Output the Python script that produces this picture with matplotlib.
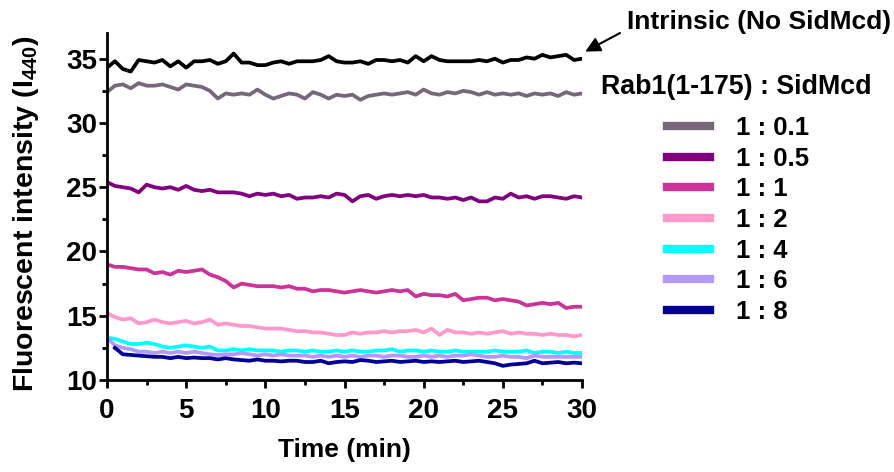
import numpy as np
import matplotlib
matplotlib.use("Agg")
import matplotlib.pyplot as plt
from matplotlib.ticker import MultipleLocator

plt.rcParams['font.family'] = ['Liberation Sans', 'DejaVu Sans']
plt.rcParams['font.weight'] = 'bold'
plt.rcParams['mathtext.fontset'] = 'custom'
plt.rcParams['mathtext.rm'] = 'Liberation Sans:bold'
plt.rcParams['mathtext.it'] = 'Liberation Sans:bold'
plt.rcParams['mathtext.bf'] = 'Liberation Sans:bold'

time = np.arange(0, 30.01, 0.5)

intrinsic = [34.3, 34.8, 34.2, 34.0, 34.9, 34.8, 34.7, 34.9, 34.4, 34.8, 34.3, 34.8, 34.8, 34.9, 34.6, 34.8,
             35.4, 34.7, 34.7, 34.5, 34.5, 34.7, 34.8, 34.6, 34.8, 34.8, 34.8, 34.9, 35.2, 34.8, 34.7, 34.7,
             34.8, 34.6, 34.9, 34.9, 34.8, 34.9, 34.7, 35.2, 34.8, 35.2, 34.9, 34.8, 34.8, 34.8, 34.8, 34.9,
             34.8, 35.0, 34.7, 34.9, 34.9, 35.1, 35.0, 35.3, 35.1, 35.2, 35.3, 34.9, 35.0]
r_0_1 = [32.4, 32.9, 33.0, 32.7, 33.1, 32.9, 32.9, 33.0, 32.8, 32.6, 33.0, 32.9, 32.8, 32.5, 31.9, 32.3,
         32.2, 32.3, 32.2, 32.6, 32.2, 31.9, 32.1, 32.3, 32.2, 31.9, 32.4, 32.2, 31.9, 32.2, 32.1, 32.2,
         31.8, 32.1, 32.2, 32.3, 32.2, 32.3, 32.4, 32.2, 32.6, 32.3, 32.2, 32.4, 32.3, 32.5, 32.4, 32.2,
         32.4, 32.2, 32.3, 32.2, 32.3, 32.1, 32.3, 32.2, 32.3, 32.1, 32.4, 32.2, 32.3]
r_0_5 = [25.4, 25.1, 25.0, 24.9, 24.6, 25.2, 25.0, 24.9, 25.0, 24.8, 25.1, 24.8, 24.7, 24.8, 24.6, 24.6,
         24.6, 24.5, 24.3, 24.5, 24.4, 24.5, 24.3, 24.4, 24.1, 24.2, 24.2, 24.3, 24.2, 24.5, 24.4, 23.9,
         24.3, 24.4, 24.1, 24.3, 24.4, 24.3, 24.4, 24.3, 24.4, 24.2, 24.2, 24.1, 24.2, 24.0, 24.2, 23.9,
         23.9, 24.2, 24.1, 24.5, 24.2, 24.3, 24.1, 24.3, 24.3, 24.2, 24.1, 24.3, 24.2]
r_1 = [19.0, 18.8, 18.8, 18.7, 18.6, 18.6, 18.3, 18.4, 18.2, 18.5, 18.4, 18.5, 18.6, 18.2, 18.0, 17.7,
       17.2, 17.5, 17.4, 17.3, 17.3, 17.3, 17.2, 17.3, 17.1, 17.1, 16.9, 17.0, 17.0, 16.9, 16.8, 16.9,
       17.0, 16.9, 16.8, 16.9, 17.0, 16.9, 17.0, 16.5, 16.7, 16.6, 16.6, 16.5, 16.7, 16.2, 16.3, 16.4,
       16.4, 16.2, 16.3, 16.2, 16.1, 15.8, 15.9, 16.0, 15.9, 16.0, 15.6, 15.7, 15.7]
r_2 = [15.2, 14.9, 14.7, 14.8, 14.4, 14.5, 14.7, 14.5, 14.4, 14.5, 14.6, 14.4, 14.5, 14.7, 14.3, 14.4,
       14.3, 14.2, 14.2, 14.1, 14.0, 14.0, 14.0, 13.9, 13.8, 13.8, 13.7, 13.7, 13.6, 13.5, 13.5, 13.7,
       13.6, 13.7, 13.7, 13.8, 13.7, 13.8, 13.8, 13.9, 13.7, 14.0, 13.5, 13.9, 13.7, 13.7, 13.6, 13.7,
       13.6, 13.7, 13.8, 13.6, 13.7, 13.6, 13.6, 13.5, 13.6, 13.5, 13.5, 13.4, 13.5]
r_4 = [13.3, 13.2, 13.0, 12.8, 12.8, 12.9, 12.8, 12.6, 12.5, 12.6, 12.7, 12.6, 12.5, 12.6, 12.3, 12.3,
       12.4, 12.3, 12.4, 12.3, 12.3, 12.3, 12.2, 12.3, 12.3, 12.2, 12.3, 12.2, 12.2, 12.3, 12.2, 12.3,
       12.2, 12.2, 12.3, 12.3, 12.4, 12.2, 12.3, 12.3, 12.2, 12.3, 12.2, 12.2, 12.3, 12.2, 12.2, 12.2,
       12.2, 12.3, 12.2, 12.2, 12.2, 12.3, 12.1, 12.2, 12.2, 12.1, 12.2, 12.1, 12.1]
r_6 = [13.3, 12.7, 12.5, 12.4, 12.2, 12.2, 12.1, 12.2, 12.1, 12.2, 12.1, 12.2, 12.1, 12.0, 11.95, 12.0,
       12.0, 12.1, 12.0, 11.9, 12.0, 11.9, 12.0, 11.9, 11.9, 11.9, 11.8, 11.9, 11.8, 11.9, 11.8, 11.9,
       11.8, 11.9, 11.9, 11.8, 11.9, 11.9, 11.8, 11.8, 11.9, 11.8, 11.9, 11.8, 11.9, 11.9, 12.0, 11.9,
       11.8, 11.8, 11.9, 11.8, 11.8, 11.7, 11.9, 11.8, 11.8, 11.8, 11.8, 11.8, 11.8]
r_8 = [np.nan, 12.5, 12.0, 11.95, 11.9, 11.85, 11.8, 11.8, 11.7, 11.8, 11.7, 11.75, 11.7, 11.7, 11.6, 11.7,
       11.6, 11.55, 11.5, 11.6, 11.5, 11.5, 11.45, 11.5, 11.5, 11.4, 11.4, 11.5, 11.3, 11.4, 11.45, 11.4,
       11.55, 11.5, 11.4, 11.45, 11.5, 11.4, 11.45, 11.5, 11.4, 11.45, 11.4, 11.45, 11.5, 11.4, 11.45, 11.5,
       11.4, 11.3, 11.1, 11.2, 11.25, 11.3, 11.5, 11.3, 11.35, 11.4, 11.3, 11.35, 11.3]

labels = ['1 : 0.1', '1 : 0.5', '1 : 1', '1 : 2', '1 : 4', '1 : 6', '1 : 8']
series = [r_0_1, r_0_5, r_1, r_2, r_4, r_6, r_8]
colors = ['#76687A', '#800080', '#CC3399', '#FF99CC', '#00FFFF', '#B399FF', '#000099']

W, H = 894, 472
fig = plt.figure(figsize=(W/100, H/100), dpi=100)
ax = fig.add_axes([107/W, 1-380/H, (582-107)/W, (380-33)/H])

ax.plot(time, intrinsic, color='black', lw=2.7, zorder=5)
for lab, ys, c in zip(labels, series, colors):
    ax.plot(time, ys, color=c, lw=2.7, label=lab)

ax.set_xlim(0, 30)
ax.set_ylim(10, 37)
ax.xaxis.set_major_locator(MultipleLocator(5))
ax.xaxis.set_minor_locator(MultipleLocator(2.5))
ax.yaxis.set_major_locator(MultipleLocator(5))
ax.yaxis.set_minor_locator(MultipleLocator(2.5))
for s in ['top', 'right']:
    ax.spines[s].set_visible(False)
for s in ['left', 'bottom']:
    ax.spines[s].set_linewidth(2)
ax.tick_params(which='major', direction='out', length=6, width=2, labelsize=20, pad=1)
ax.tick_params(which='minor', direction='out', length=3.5, width=2)
ax.tick_params(axis='x', pad=7)
for t in ax.get_xticklabels() + ax.get_yticklabels():
    t.set_fontweight('bold')

ax.set_xlabel('Time (min)', fontsize=19, fontweight='bold')
ax.xaxis.set_label_coords(0.5, (380-438)/347)
ax.set_ylabel(r'Fluorescent intensity (I$_{440}$)', fontsize=20.5, fontweight='bold')
ax.yaxis.set_label_coords((26-107)/475, (380-214)/347)
ax.yaxis.label.set_va('center')

leg = ax.legend(handles=[plt.Line2D([], [], color=c, lw=6) for c in colors], labels=labels,
                loc='center', bbox_to_anchor=(738/W, 1-220/H), bbox_transform=fig.transFigure,
                frameon=False, fontsize=18.5,
                handlelength=1.7, handletextpad=1.0, labelspacing=0.26, borderpad=0)
fig.text(736/W, 1-87/H, 'Rab1(1-175) : SidMcd', fontsize=19.3, fontweight='bold',
         ha='center', va='center')

fig.text(627/W, 1-22/H, 'Intrinsic (No SidMcd)', fontsize=19, fontweight='bold',
         ha='left', va='center')
ax.annotate('', xy=(30.2, 35.55), xycoords='data',
            xytext=(620/W, 1-33/H), textcoords='figure fraction',
            arrowprops=dict(arrowstyle='-|>,head_length=0.9,head_width=0.45', color='black', lw=1.5,
                            shrinkA=0, shrinkB=0),
            annotation_clip=False)

fig.savefig('out.png', dpi=100)
